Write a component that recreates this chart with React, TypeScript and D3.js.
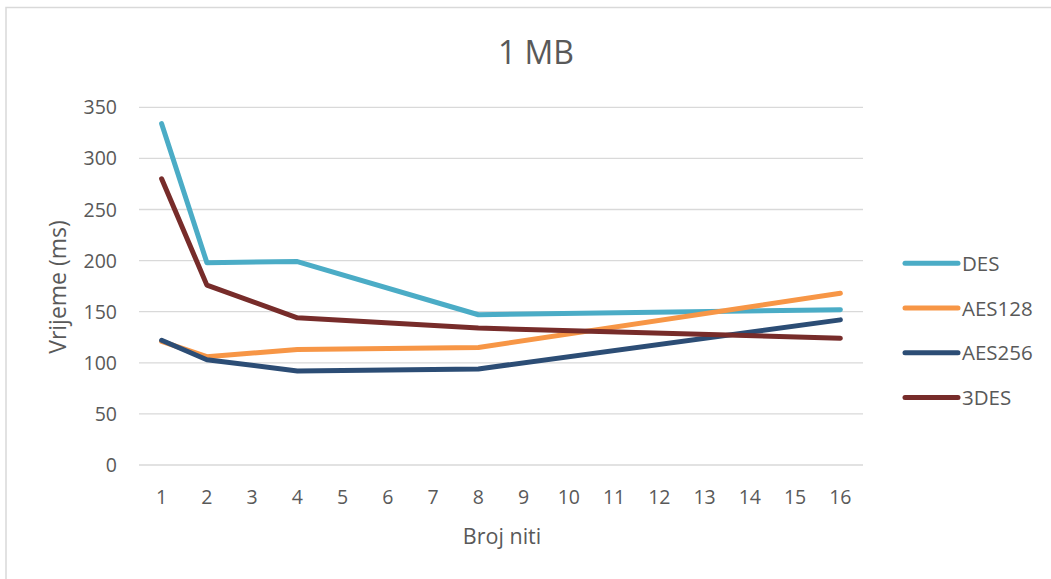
import React from "react";
import * as d3 from "d3";

const categories = ["1","2","3","4","5","6","7","8","9","10","11","12","13","14","15","16"];
const threads = ["1", "2", "4", "8", "16"];
const desValues = [334, 198, 199, 147, 152];
const aes128Values = [121, 106, 113, 115, 168];
const aes256Values = [122, 103, 92, 94, 142];
const tdesValues = [280, 176, 144, 134, 124];
const seriesNames = ["DES", "AES128", "AES256", "3DES"];
const seriesColors = ["#4BACC6", "#F79646", "#2C4D75", "#772C2A"];
const yTicks = [0, 50, 100, 150, 200, 250, 300, 350];

const W = 1051;
const H = 579;
const font = "'Open Sans', sans-serif";
const textColor = "#595959";

export default function App() {
  const x = d3.scaleBand<string>().domain(categories).range([139, 863]);
  const xc = (c: string) => (x(c) as number) + x.bandwidth() / 2;
  const y = d3.scaleLinear().domain([0, 350]).range([465, 107.3]);
  const allValues = [desValues, aes128Values, aes256Values, tdesValues];
  const line = d3
    .line<[string, number]>()
    .x((d) => xc(d[0]))
    .y((d) => y(d[1]));

  return (
    <svg
      width={W}
      height={H}
      style={{ position: "absolute", left: 0, top: 0, background: "#fff" }}
      fontFamily={font}
    >
      <rect x={6} y={7.5} width={W + 10} height={H + 10} fill="#fff" stroke="#D9D9D9" strokeWidth={1.5} />
      <text x={536} y={64} textAnchor="middle" fontSize={32} fill={textColor}>
        1 MB
      </text>
      {yTicks.map((t) => (
        <g key={t}>
          <line x1={139} x2={863} y1={y(t)} y2={y(t)} stroke="#D9D9D9" strokeWidth={1.3} />
          <text x={117} y={y(t) + 7} textAnchor="end" fontSize={19.5} fill={textColor}>
            {t}
          </text>
        </g>
      ))}
      {categories.map((c) => (
        <text key={c} x={xc(c)} y={504} textAnchor="middle" fontSize={19.5} fill={textColor}>
          {c}
        </text>
      ))}
      <text x={502} y={544} textAnchor="middle" fontSize={21.5} fill={textColor}>
        Broj niti
      </text>
      <text
        transform={`translate(66,287) rotate(-90)`}
        textAnchor="middle"
        fontSize={23}
        fill={textColor}
      >
        Vrijeme (ms)
      </text>
      {allValues.map((vals, i) => (
        <path
          key={seriesNames[i]}
          d={line(threads.map((t, j) => [t, vals[j]] as [string, number])) as string}
          fill="none"
          stroke={seriesColors[i]}
          strokeWidth={5}
          strokeLinecap="round"
          strokeLinejoin="round"
        />
      ))}
      {seriesNames.map((n, i) => (
        <g key={n} transform={`translate(0, ${263.3 + i * 44.7})`}>
          <line x1={905} x2={958} y1={0} y2={0} stroke={seriesColors[i]} strokeWidth={5} strokeLinecap="round" />
          <text x={962} y={7.5} fontSize={20.5} fill={textColor}>
            {n}
          </text>
        </g>
      ))}
    </svg>
  );
}
